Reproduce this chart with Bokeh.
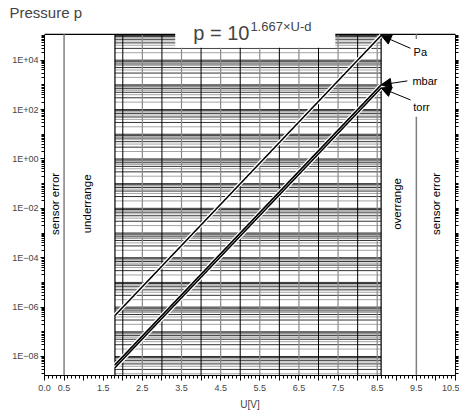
import math
from bokeh.plotting import figure
from bokeh.models import Range1d, FixedTicker, LogAxis, Label, Arrow, NormalHead
from bokeh.core.properties import value
from bokeh.embed import file_html
from bokeh.resources import INLINE

FONT = "Liberation Sans"

# ---- data ----
u_valid = [1.8, 8.6]                 # valid measurement range [V]
p_pa = [4.6e-7, 1.0e5]
p_mbar = [4.6e-9, 1.0e3]
p_torr = [3.5e-9, 7.5e2]

unit_names = ["Pa", "mbar", "torr"]

zone_names = ["sensor error", "underrange", "overrange", "sensor error"]
zone_bounds = [0.0, 0.5, 1.8, 8.6, 9.5, 10.5]
zone_text_x = [0.27, 1.09, 9.0, 9.99]

x_ticks = [0.0, 0.5, 1.0, 1.5, 2.0, 2.5, 3.0, 3.5, 4.0, 4.5, 5.0, 5.5, 6.0,
           6.5, 7.0, 7.5, 8.0, 8.5, 9.0, 9.5, 10.0, 10.5]
x_tick_labels = ["0.0", "0.5", "", "1.5", "", "2.5", "", "3.5", "", "4.5", "",
                 "5.5", "", "6.5", "", "7.5", "", "8.5", "", "9.5", "", "10.5"]

y_ticks = [1e-8, 1e-6, 1e-4, 1e-2, 1e0, 1e2, 1e4]
y_tick_labels = ["1E\u221208", "1E\u221206", "1E\u221204", "1E\u221202",
                 "1E+00", "1E+02", "1E+04"]

y_lo, y_box = 1.7e-9, 1.107e5      # plotted pressure span (box bottom / top)
y_hi = 10 ** 5.606                 # room above the box for the formula
x_lo, x_hi = 0.0, 10.5
formula_box = [3.34, 7.43]

# ---- figure ----
p = figure(width=459, height=412, x_range=Range1d(x_lo, x_hi),
           y_range=Range1d(y_lo, y_hi), y_axis_type="log",
           output_backend="svg", toolbar_location=None,
           min_border_left=44, min_border_right=4, min_border_top=20,
           min_border_bottom=34, title="Pressure p")
p.title.text_font = FONT
p.title.text_font_size = "15px"
p.title.text_font_style = "normal"
p.title.align = "left"
p.title.offset = -35
p.title.standoff = 0
p.xgrid.visible = False
p.ygrid.visible = False
p.outline_line_color = None
p.background_fill_color = "white"
p.border_fill_color = "white"

# ---- horizontal grid in valid range ----
grid_vals, grid_cols = [], []
for e in range(-9, 6):
    for m in range(1, 10):
        v = m * 10.0 ** e
        if y_lo <= v <= y_box:
            grid_vals.append(v)
            grid_cols.append("#1a1a1a" if m % 2 == 1 else "#9a9a9a")
n = len(grid_vals)
p.segment(x0=[u_valid[0]] * n, x1=[u_valid[1]] * n, y0=grid_vals, y1=grid_vals,
          line_color=grid_cols, line_width=0.9)

# ---- vertical grid ----
vx_black = [2.0, 3.0, 4.0, 5.0, 6.0, 7.0, 8.0]
vx_gray = [2.5, 3.5, 4.5, 5.5, 6.5, 7.5, 8.5]
p.segment(x0=vx_gray, x1=vx_gray, y0=[y_lo] * 7, y1=[y_box] * 7,
          line_color="#8a8a8a", line_width=1.2)
p.segment(x0=vx_black, x1=vx_black, y0=[y_lo] * 7, y1=[y_box] * 7,
          line_color="black", line_width=1)

# ---- white box behind formula ----
p.quad(left=[formula_box[0]], right=[formula_box[1]], bottom=[10 ** 4.5], top=[y_hi],
       fill_color="white", line_color=None)

# ---- top border of the box (interrupted by formula) ----
p.segment(x0=[x_lo, formula_box[1]], x1=[formula_box[0], x_hi], y0=[y_box, y_box],
          y1=[y_box, y_box], line_color="black", line_width=1.2)

# ---- zone separators ----
p.segment(x0=[zone_bounds[1]], x1=[zone_bounds[1]], y0=[y_lo], y1=[y_box],
          line_color="#7f7f7f", line_width=1.5)
p.segment(x0=[zone_bounds[4], zone_bounds[4]], x1=[zone_bounds[4], zone_bounds[4]],
          y0=[y_lo, 10 ** 4.86], y1=[10 ** 1.71, y_box],
          line_color="#7f7f7f", line_width=1.5)
p.segment(x0=[zone_bounds[2], zone_bounds[3]], x1=[zone_bounds[2], zone_bounds[3]],
          y0=[y_lo, y_lo], y1=[y_box, y_box], line_color="black", line_width=1.2)

# ---- data lines ----
for ys in (p_pa, p_mbar, p_torr):
    p.line(u_valid, ys, line_color="white", line_width=4)
for ys in (p_pa, p_mbar, p_torr):
    p.line(u_valid, ys, line_color="black", line_width=1.6)

# ---- zone texts ----
p.text(x=zone_text_x, y=[10 ** -1.82] * 4, text=zone_names, angle=math.pi / 2,
       text_align="center", text_baseline="middle", text_font=value(FONT),
       text_font_size="11.5px", text_color="black")

# ---- unit labels and arrows ----
unit_x = [9.43, 9.40, 9.42]
unit_y = [10 ** 4.32, 10 ** 3.16, 10 ** 2.11]
p.text(x=unit_x, y=unit_y, text=unit_names, text_align="left",
       text_baseline="middle", text_font=value(FONT), text_font_size="11px")
arr_start = [(9.35, 10 ** 4.48), (9.27, 10 ** 3.16), (9.35, 10 ** 2.39)]
arr_end = [(u_valid[1], p_pa[1]), (u_valid[1], p_mbar[1]), (u_valid[1], p_torr[1])]
for (xs, ys), (xe, ye) in zip(arr_start, arr_end):
    p.add_layout(Arrow(end=NormalHead(size=10, fill_color="black", line_color="black"),
                       x_start=xs, y_start=ys, x_end=xe, y_end=ye,
                       line_color="black", line_width=1))

# ---- formula ----
p.add_layout(Label(x=3.80, y=10 ** 5.11, text="p = 10", text_font=FONT,
                   text_font_size="20px", text_baseline="alphabetic"))
p.add_layout(Label(x=5.26, y=10 ** 5.345, text="1.667\u00d7U-d", text_font=FONT,
                   text_font_size="13px", text_baseline="alphabetic"))

# ---- axes ----
xa = p.xaxis[0]
xa.ticker = FixedTicker(ticks=x_ticks, minor_ticks=[round(i * 0.1, 1) for i in range(106)])
xa.major_label_overrides = {t: l for t, l in zip(x_ticks, x_tick_labels)}
xa.major_tick_in = 0
xa.major_tick_out = 5
xa.minor_tick_in = 0
xa.minor_tick_out = 3
xa.major_label_standoff = 4
xa.major_label_text_font = FONT
xa.major_label_text_font_size = "9px"
xa.axis_label = "U[V]"
xa.axis_label_text_font = FONT
xa.axis_label_text_font_size = "10px"
xa.axis_label_text_font_style = "normal"
xa.axis_label_standoff = 5

y_minor = []
for e in range(-9, 6):
    for m in range(1, 10):
        v = m * 10.0 ** e
        if y_lo <= v <= y_box:
            y_minor.append(v)
ya = p.yaxis[0]
ya.ticker = FixedTicker(ticks=y_ticks, minor_ticks=y_minor)
ya.bounds = (y_lo, y_box)
ya.major_label_overrides = {t: l for t, l in zip(y_ticks, y_tick_labels)}
ya.major_tick_in = 0
ya.major_tick_out = 4
ya.minor_tick_in = 0
ya.minor_tick_out = 3
ya.major_label_standoff = 2
ya.major_label_text_font = FONT
ya.major_label_text_font_size = "9px"

ra = LogAxis(ticker=FixedTicker(ticks=y_ticks, minor_ticks=y_minor),
             bounds=(y_lo, y_box),
             major_label_overrides={t: "" for t in y_ticks},
             major_tick_in=0, major_tick_out=3,
             minor_tick_in=0, minor_tick_out=3, major_label_standoff=0)
p.add_layout(ra, "right")

open("out.html", "w").write(file_html(p, INLINE))
